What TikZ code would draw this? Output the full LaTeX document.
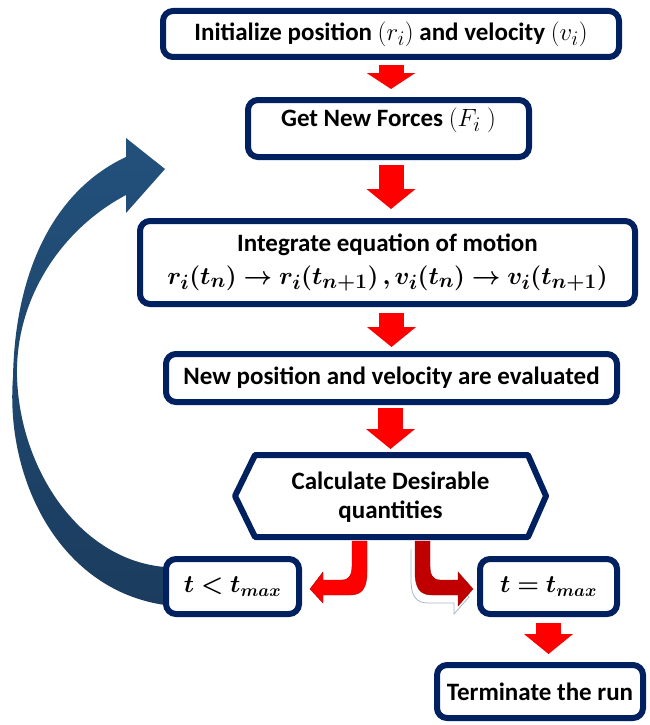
\documentclass[tikz,border=0pt]{standalone}
\usepackage{fontspec}
\setmainfont{Carlito}
\usepackage{amsmath,bm}
\usetikzlibrary{arrows.meta}
\definecolor{navy}{HTML}{002060}
\definecolor{bluetop}{HTML}{22517C}
\definecolor{bluebot}{HTML}{1B3C5E}
\definecolor{darkred}{HTML}{C00000}
\definecolor{shadowline}{HTML}{A9B6C9}
\newcommand{\mymath}[1]{{\fontsize{28}{30}\selectfont$#1$}}
\tikzset{
  box/.style={draw=navy, line width=6pt, rounded corners=10pt, fill=white,
    inner sep=0pt, align=center, font=\fontsize{25}{30}\selectfont\bfseries},
  redarr/.style={draw=red, line width=25pt, -{Triangle[width=48pt,length=20pt]}},
  txt/.style={inner sep=0pt, align=center, font=\fontsize{25}{30}\selectfont\bfseries}
}
\begin{document}
\begin{tikzpicture}[x=1pt,y=-1pt]
\useasboundingbox (0,0) rectangle (649,725);
% big blue loop arrow
\shade[top color=bluetop, bottom color=bluebot]
  (165,605) .. controls (60,590) and (5,480) .. (13,377)
  .. controls (15,270) and (55,190) .. (126,157)
  -- (126,138) -- (165,169) -- (126,213) -- (126,195)
  .. controls (60,230) and (15,300) .. (17,377)
  .. controls (20,470) and (80,560) .. (165,567) -- cycle;
% boxes
\node[box, minimum width=456pt, minimum height=46pt] (init) at (391,34)
  {Initialize position \mymath{(r_i)} and velocity \mymath{(v_i)}};
\node[box, minimum width=281pt, minimum height=57pt] (forces) at (388.5,128.5)
  {Get New Forces \mymath{(F_i\ )}\\[-17pt]\strut};
\node[box, minimum width=495pt, minimum height=83pt] (integ) at (387.5,262.5)
  {\rule{0pt}{14pt}Integrate equation of motion\\[3pt]
   {\fontsize{27.5}{30}\selectfont$\bm{r_i(t_n)\rightarrow r_i(t_{n+1})\,,v_i(t_n)\rightarrow v_i(t_{n+1})}$}};
\node[box, minimum width=451pt, minimum height=48pt] (newpos) at (391.5,378)
  {New position and velocity are evaluated};
\draw[draw=navy, line width=6pt, line join=round, fill=white]
  (235,496) -- (255,455) -- (528,455) -- (546,496) -- (528,537) -- (255,537) -- cycle;
\node[txt, font=\fontsize{25}{29}\selectfont\bfseries] (hex) at (390.5,497) {Calculate Desirable\\quantities};
\node[box, minimum width=133pt, minimum height=55pt] (lt) at (232.5,586.5)
  {\fontsize{23}{28}\selectfont$\bm{t<t_{max}}$};
\node[box, minimum width=137pt, minimum height=55pt] (eq) at (548.5,586.5)
  {\fontsize{23}{28}\selectfont$\bm{t=t_{max}}$};
\node[box, minimum width=206pt, minimum height=53pt] (term) at (540,691.5)
  {Terminate the run};
% straight red arrows
\coordinate (a1s) at ([yshift=-5pt]init.south);
\coordinate (a1e) at (init.south |- forces.north);
\draw[redarr, -{Triangle[width=48pt,length=16pt]}] (a1s) -- ([yshift=8pt]a1e);
\coordinate (a2s) at (forces.south -| init.south);
\coordinate (a2e) at (init.south |- integ.north);
\draw[redarr] ([yshift=-5pt]a2s) -- ([yshift=9pt]a2e);
\coordinate (a3s) at (integ.south -| newpos.north);
\draw[redarr] ([yshift=-6pt]a3s) -- ([yshift=4pt]newpos.north);
\coordinate (a4s) at (newpos.south -| hex.north);
\coordinate (a4e) at (hex.north |- 0,455);
\draw[redarr] ([yshift=-3pt]a4s) -- ([yshift=6pt]a4e);
\draw[redarr] ([yshift=-6pt]eq.south) -- ([yshift=8pt]eq.south |- term.north);
% curved red arrows from hexagon
\fill[red, draw=red!70!black, line width=0.4pt]
  (367,541) -- (367,572) .. controls (367,588) and (362,595) .. (350,595)
  -- (323,595) -- (323,603) -- (310,589) -- (323,572) -- (323,580)
  -- (342,580) .. controls (349,580) and (352,575) .. (352,566) -- (352,541) -- cycle;
\draw[shadowline, line width=0.8pt, fill=white, shift={(-4pt,-8pt)}]
  (415,541) -- (415,572) .. controls (415,588) and (420,595) .. (432,595)
  -- (458,595) -- (458,606) -- (473,589) -- (458,572) -- (458,580)
  -- (440,580) .. controls (433,580) and (430,575) .. (430,566) -- (430,541);
\fill[darkred, draw=darkred!80!black, line width=0.4pt]
  (415,541) -- (415,572) .. controls (415,588) and (420,595) .. (432,595)
  -- (458,595) -- (458,606) -- (473,589) -- (458,572) -- (458,580)
  -- (440,580) .. controls (433,580) and (430,575) .. (430,566) -- (430,541) -- cycle;
\end{tikzpicture}
\end{document}
